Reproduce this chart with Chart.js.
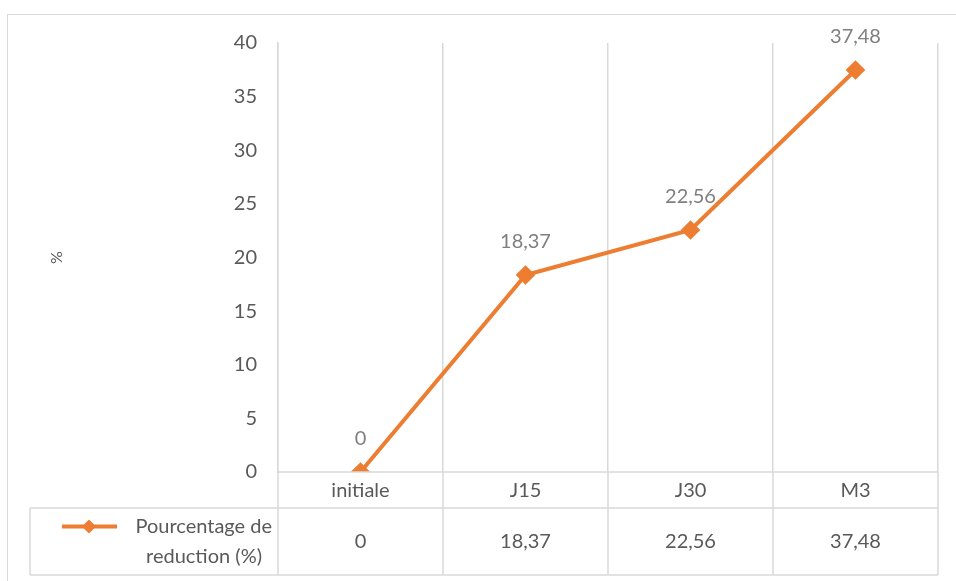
<!DOCTYPE html>
<html>
<head>
<meta charset="utf-8">
<script src="https://cdn.jsdelivr.net/npm/chart.js@4.4.1/dist/chart.umd.min.js"></script>
<style>
  html, body { margin: 0; padding: 0; background: #fff; }
  #wrap { width: 956px; height: 581px; position: relative; }
</style>
</head>
<body>
<div id="wrap"><canvas id="c"></canvas></div>
<script>
const categories = ["initiale", "J15", "J30", "M3"];
const reduction = [0, 18.37, 22.56, 37.48];
const seriesName = ["Pourcentage de", "reduction (%)"];
const yTicks = [0, 5, 10, 15, 20, 25, 30, 35, 40];

const ORANGE = "#ED7D31";
const GRID = "#D9D9D9";
const TEXT = "#595959";
const FONT = "Lato, 'Open Sans', sans-serif";

const fmt = v => String(v).replace(".", ",");

// data labels above points + data table under the axis
const extras = {
    id: "extras",
    afterDraw(chart) {
        const ctx = chart.ctx;
        const x = chart.scales.x;
        const area = chart.chartArea;
        const row1 = area.bottom + 36, row2 = area.bottom + 103, tableLeft = 30;
        ctx.save();

        // outer frame
        ctx.strokeStyle = GRID;
        ctx.lineWidth = 1;
        ctx.strokeRect(7.5, 14.5, 1000, 1000);

        // data labels
        ctx.font = "20px " + FONT;
        ctx.fillStyle = "#7F7F7F";
        ctx.textAlign = "center";
        ctx.textBaseline = "middle";
        const meta = chart.getDatasetMeta(0);
        meta.data.forEach((pt, i) => {
            ctx.fillText(fmt(reduction[i]), pt.x, pt.y - 33);
        });

        // table lines
        ctx.strokeStyle = GRID;
        ctx.lineWidth = 1.5;
        ctx.beginPath();
        ctx.moveTo(area.left, area.bottom); ctx.lineTo(area.right, area.bottom);
        ctx.moveTo(tableLeft, row1); ctx.lineTo(area.right, row1);
        ctx.moveTo(tableLeft, row2); ctx.lineTo(area.right, row2);
        ctx.moveTo(tableLeft, row1); ctx.lineTo(tableLeft, row2);
        const half = (x.getPixelForValue(1) - x.getPixelForValue(0)) / 2;
        for (let i = 0; i <= categories.length; i++) {
            const px = i < categories.length ? x.getPixelForValue(i) - half : area.right;
            ctx.moveTo(px, area.bottom); ctx.lineTo(px, row2);
        }
        ctx.stroke();

        // table values
        ctx.font = "20px " + FONT;
        ctx.fillStyle = TEXT;
        ctx.textBaseline = "middle";
        const midRow = (row1 + row2) / 2;
        reduction.forEach((v, i) => {
            ctx.fillText(fmt(v), x.getPixelForValue(i), midRow);
        });

        // legend key
        const ky = midRow - 15;
        ctx.strokeStyle = ORANGE;
        ctx.lineWidth = 4;
        ctx.beginPath();
        ctx.moveTo(62, ky); ctx.lineTo(117, ky);
        ctx.stroke();
        ctx.fillStyle = ORANGE;
        ctx.beginPath();
        const kx = 89;
        ctx.moveTo(kx, ky - 7); ctx.lineTo(kx + 7, ky); ctx.lineTo(kx, ky + 7); ctx.lineTo(kx - 7, ky);
        ctx.closePath();
        ctx.fill();

        ctx.fillStyle = TEXT;
        ctx.textAlign = "right";
        ctx.fillText(seriesName[0], area.left - 6, midRow - 15);
        ctx.fillText(seriesName[1], area.left - 16, midRow + 15);
        ctx.restore();
    }
};

new Chart(document.getElementById("c"), {
    type: "line",
    data: {
        labels: categories,
        datasets: [{
            label: seriesName.join(" "),
            data: reduction,
            borderColor: ORANGE,
            backgroundColor: ORANGE,
            borderWidth: 4,
            pointStyle: "rectRot",
            pointRadius: 7,
            pointHoverRadius: 7,
            tension: 0
        }]
    },
    options: {
        responsive: true,
        maintainAspectRatio: false,
        animation: false,
        layout: { padding: { top: 43, right: 18, bottom: 6, left: 0 } },
        plugins: {
            legend: { display: false },
            tooltip: { enabled: false }
        },
        scales: {
            x: {
                offset: true,
                grid: { offset: true, color: GRID, lineWidth: 1.5, drawTicks: false },
                border: { display: false },
                ticks: { color: TEXT, font: { family: FONT, size: 20 }, padding: 7 },
                afterFit: s => { s.height = 103; }
            },
            y: {
                min: 0,
                max: 40,
                afterBuildTicks: s => { s.ticks = yTicks.map(v => ({ value: v })); },
                grid: { display: false, drawTicks: false },
                border: { display: true, color: GRID, width: 1.5 },
                ticks: { color: TEXT, font: { family: FONT, size: 20 }, padding: 21 },
                title: {
                    display: true,
                    text: "%",
                    color: TEXT,
                    font: { family: FONT, size: 16 },
                    padding: { top: 47, bottom: 0 }
                },
                afterFit: s => { s.width = 278; }
            }
        }
    },
    plugins: [extras]
});
</script>
</body>
</html>
